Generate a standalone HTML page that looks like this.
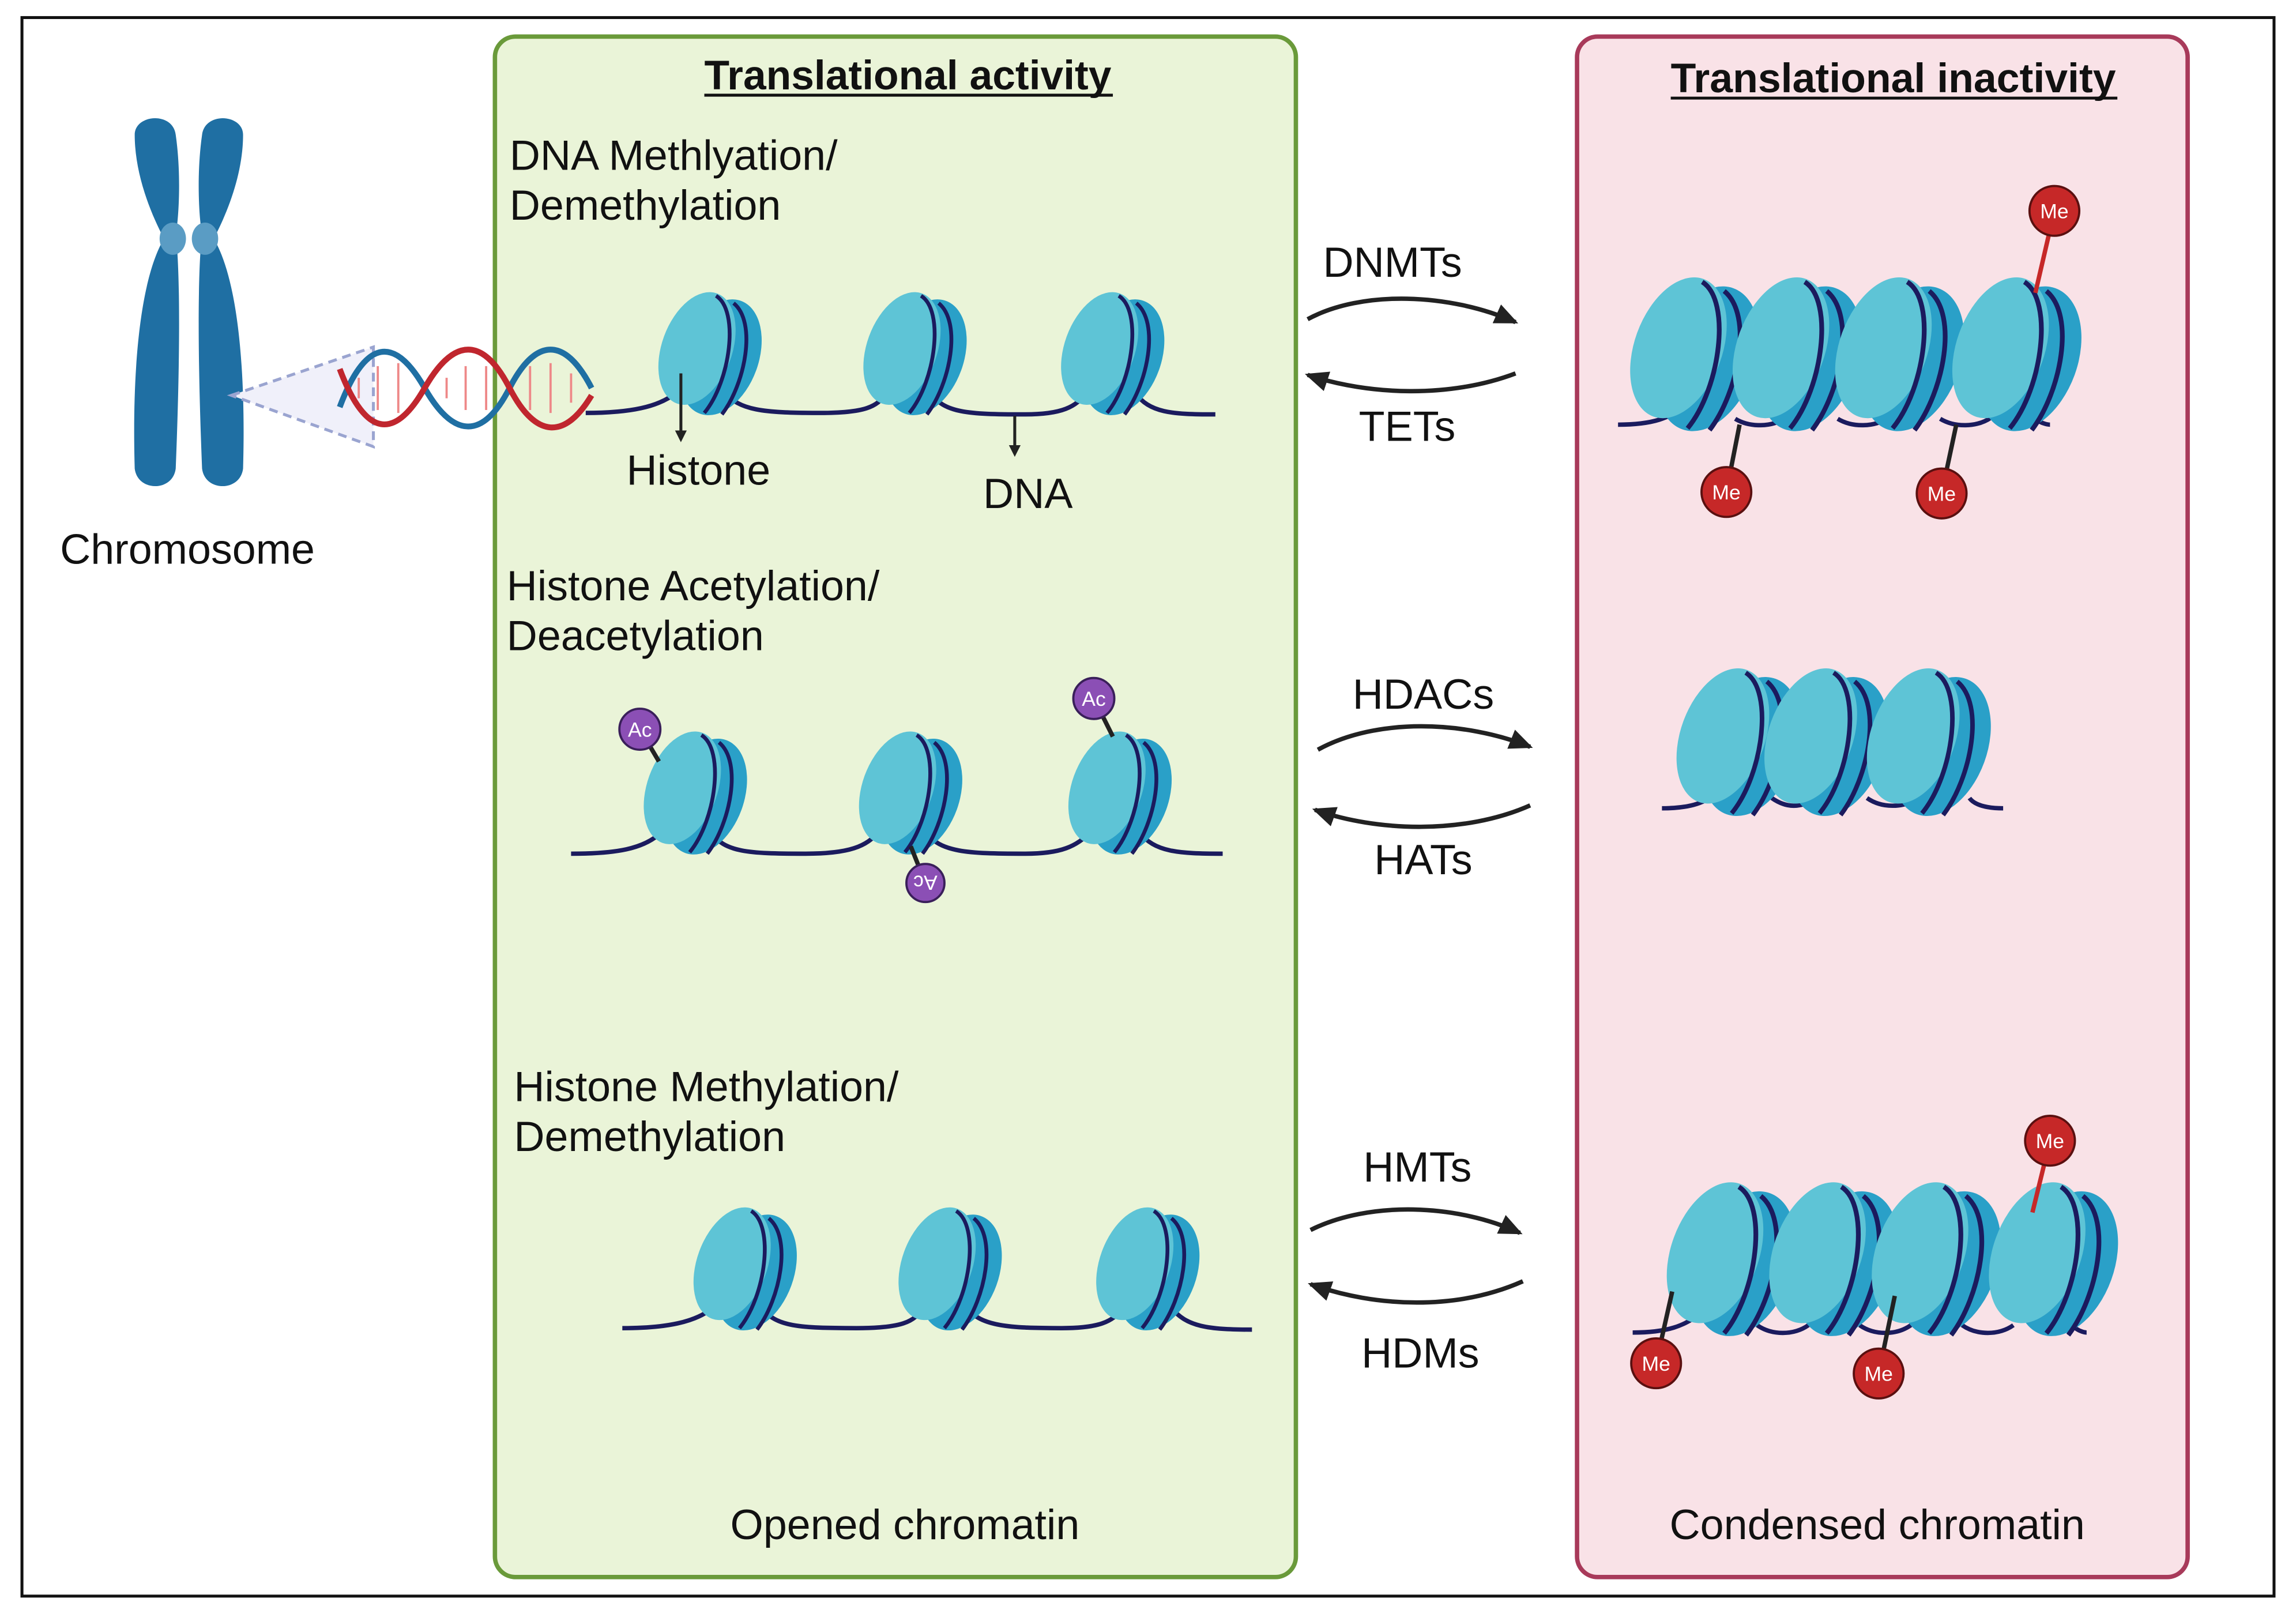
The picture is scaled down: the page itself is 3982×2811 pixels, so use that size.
<!DOCTYPE html>
<html><head><meta charset="utf-8"><style>
html,body{margin:0;padding:0;background:#fff}
svg{display:block}
text{font-family:"Liberation Sans",sans-serif;fill:#111}
</style></head><body>
<svg width="3982" height="2811" viewBox="0 0 1568 1107" preserveAspectRatio="none" xmlns="http://www.w3.org/2000/svg">
<defs>
<g id="nuc">
  <ellipse cx="9" cy="4" rx="26" ry="41" transform="rotate(20 9 4)" fill="#2aa0c8"/>
  <ellipse cx="-7" cy="-2" rx="24" ry="40" transform="rotate(20 -7 -2)" fill="#5ec4d6"/>
  <path d="M6,-38 C22,-28 16,20 -2,42" stroke="#1b1b5e" stroke-width="2.6" fill="none"/>
  <path d="M18,-33 C34,-20 26,22 10,43" stroke="#1b1b5e" stroke-width="2.6" fill="none"/>
</g>
<marker id="ah" markerWidth="8" markerHeight="8" refX="6" refY="4" orient="auto" markerUnits="userSpaceOnUse" viewBox="0 0 8 8">
<path d="M0,0 L8,4 L0,8 z" fill="#222"/></marker>
<marker id="ah2" markerWidth="16" markerHeight="14" refX="14" refY="7" orient="auto" markerUnits="userSpaceOnUse" viewBox="0 0 16 14">
<path d="M0,0 L16,7 L0,14 z" fill="#222"/></marker>
</defs>
<rect x="0" y="0" width="1568" height="1107" fill="#fff"/>
<rect x="15" y="12" width="1538" height="1078" fill="#fff" stroke="#111" stroke-width="2"/>
<rect x="338" y="25" width="547" height="1052" rx="14" fill="#eaf4d8" stroke="#6a9a3a" stroke-width="3"/>
<rect x="1077" y="25" width="417" height="1052" rx="14" fill="#f9e2e7" stroke="#a83a5a" stroke-width="3"/>

<text x="620" y="61" font-size="28" font-weight="bold" text-anchor="middle" textLength="278" lengthAdjust="spacingAndGlyphs">Translational activity</text>
<line x1="481" y1="65" x2="760" y2="65" stroke="#111" stroke-width="2"/>
<text x="1293" y="63" font-size="28" font-weight="bold" text-anchor="middle" textLength="304" lengthAdjust="spacingAndGlyphs">Translational inactivity</text>
<line x1="1141" y1="67" x2="1446" y2="67" stroke="#111" stroke-width="2"/>

<g font-size="29">
<text x="348" y="116">DNA Methlyation/</text>
<text x="348" y="150">Demethylation</text>
<text x="346" y="410">Histone Acetylation/</text>
<text x="346" y="444">Deacetylation</text>
<text x="351" y="752">Histone Methylation/</text>
<text x="351" y="786">Demethylation</text>
<text x="477" y="331" text-anchor="middle">Histone</text>
<text x="702" y="347" text-anchor="middle">DNA</text>
<text x="128" y="385" text-anchor="middle">Chromosome</text>
<text x="618" y="1051" text-anchor="middle">Opened chromatin</text>
<text x="1282" y="1051" text-anchor="middle">Condensed chromatin</text>
<text x="951" y="189" text-anchor="middle">DNMTs</text>
<text x="961" y="301" text-anchor="middle">TETs</text>
<text x="972" y="484" text-anchor="middle">HDACs</text>
<text x="972" y="597" text-anchor="middle">HATs</text>
<text x="968" y="807" text-anchor="middle">HMTs</text>
<text x="970" y="934" text-anchor="middle">HDMs</text>
</g>

<!-- chromosome -->
<g fill="#1f6fa3">
<path d="M92,92 C92,78 118,76 120,92 C124,120 122,150 120,160 C122,175 124,220 120,320 C118,336 94,336 92,320 C90,250 96,190 112,163 C100,140 92,115 92,92 z"/>
<path d="M138,92 C140,76 166,78 166,92 C166,115 158,140 146,163 C162,190 168,250 166,320 C164,336 140,336 138,320 C134,220 136,175 138,160 C136,150 134,120 138,92 z"/>
</g>
<ellipse cx="118" cy="163" rx="9" ry="11" fill="#5a9cc4"/>
<ellipse cx="140" cy="163" rx="9" ry="11" fill="#5a9cc4"/>
<path d="M158,270 L255,237 L255,305 z" fill="#f0f0fa" stroke="#9aa4d0" stroke-width="2" stroke-dasharray="6,4"/>
<g fill="none" stroke-width="4">
<path d="M232,278 C250,230 270,230 290,265 C310,300 330,300 348,265 C366,230 386,230 404,265" stroke="#1f6fa3"/>
<path d="M232,252 C250,300 270,300 290,265 C310,230 330,230 348,265 C366,300 386,300 404,270" stroke="#c0262e"/>
</g>
<g stroke="#e88" stroke-width="1.5">
<line x1="245" y1="258" x2="245" y2="272"/><line x1="258" y1="250" x2="258" y2="280"/><line x1="272" y1="248" x2="272" y2="282"/><line x1="305" y1="258" x2="305" y2="272"/><line x1="318" y1="250" x2="318" y2="280"/><line x1="332" y1="250" x2="332" y2="280"/><line x1="362" y1="250" x2="362" y2="280"/><line x1="376" y1="248" x2="376" y2="282"/><line x1="390" y1="255" x2="390" y2="275"/>
</g>

<path d="M400,282 C430,282 450,278 462,268 M495,268 C505,280 520,282 560,282 C590,282 600,278 605,268 M635,268 C645,282 660,283 700,283 C725,283 735,278 742,268 M775,268 C785,282 800,283 830,283" stroke="#1b1b5e" stroke-width="3" fill="none"/>
<use href="#nuc" x="483" y="240"/><use href="#nuc" x="623" y="240"/><use href="#nuc" x="758" y="240"/>
<line x1="465" y1="255" x2="465" y2="300" stroke="#222" stroke-width="2" marker-end="url(#ah)"/>
<line x1="693" y1="284" x2="693" y2="310" stroke="#222" stroke-width="2" marker-end="url(#ah)"/>

<path d="M390,583 C420,583 440,580 452,568 M485,568 C495,582 510,583 550,583 C580,583 592,578 600,568 M632,568 C642,582 660,583 700,583 C725,583 735,578 745,568 M778,568 C788,582 805,583 835,583" stroke="#1b1b5e" stroke-width="3" fill="none"/>
<use href="#nuc" x="473" y="540"/><use href="#nuc" x="620" y="540"/><use href="#nuc" x="763" y="540"/>
<g stroke="#222" stroke-width="3"><line x1="437" y1="498" x2="450" y2="520"/><line x1="747" y1="477" x2="760" y2="503"/><line x1="632" y1="603" x2="622" y2="578"/></g>
<g fill="#8b4fb5" stroke="#3a1f5a" stroke-width="1.5"><circle cx="437" cy="498" r="14"/><circle cx="747" cy="477" r="14"/><circle cx="632" cy="603" r="13"/></g>
<g font-size="14" text-anchor="middle"><text x="437" y="503" style="fill:#fff">Ac</text><text x="747" y="482" style="fill:#fff">Ac</text><text x="632" y="608" style="fill:#fff" transform="rotate(180 632 603)">Ac</text></g>

<path d="M425,907 C455,907 475,903 487,893 M520,893 C530,906 545,907 585,907 C615,907 625,903 630,893 M660,893 C670,906 690,907 725,907 C750,907 760,903 767,893 M800,893 C810,906 825,908 855,908" stroke="#1b1b5e" stroke-width="3" fill="none"/>
<use href="#nuc" x="507" y="865"/><use href="#nuc" x="647" y="865"/><use href="#nuc" x="782" y="865"/>

<g fill="none" stroke="#222" stroke-width="3">
<path d="M893,218 C930,198 990,200 1035,220" marker-end="url(#ah2)"/>
<path d="M1035,255 C990,272 935,270 893,256" marker-end="url(#ah2)"/>
<path d="M900,512 C940,490 1000,492 1045,510" marker-end="url(#ah2)"/>
<path d="M1045,550 C1000,570 940,568 898,553" marker-end="url(#ah2)"/>
<path d="M895,840 C935,820 995,822 1038,842" marker-end="url(#ah2)"/>
<path d="M1040,875 C995,895 940,893 895,877" marker-end="url(#ah2)"/>
</g>

<path d="M1105,290 C1130,290 1140,285 1150,278 M1185,286 C1195,292 1210,292 1220,285 M1255,286 C1265,292 1280,292 1290,285 M1325,286 C1335,292 1350,292 1360,285 M1390,286 C1395,290 1400,290 1400,290" stroke="#1b1b5e" stroke-width="3" fill="none"/>
<g transform="translate(1155,240) scale(1.25)"><use href="#nuc"/></g>
<g transform="translate(1225,240) scale(1.25)"><use href="#nuc"/></g>
<g transform="translate(1295,240) scale(1.25)"><use href="#nuc"/></g>
<g transform="translate(1375,240) scale(1.25)"><use href="#nuc"/></g>
<line x1="1403" y1="144" x2="1390" y2="200" stroke="#c62828" stroke-width="3"/>
<line x1="1179" y1="336" x2="1188" y2="290" stroke="#222" stroke-width="3"/>
<line x1="1326" y1="337" x2="1336" y2="290" stroke="#222" stroke-width="3"/>
<g fill="#c62828" stroke="#5a1010" stroke-width="1.5"><circle cx="1403" cy="144" r="17"/><circle cx="1179" cy="336" r="17"/><circle cx="1326" cy="337" r="17"/></g>
<g font-size="14" text-anchor="middle"><text x="1403" y="149" style="fill:#fff">Me</text><text x="1179" y="341" style="fill:#fff">Me</text><text x="1326" y="342" style="fill:#fff">Me</text></g>

<path d="M1135,552 C1155,552 1165,548 1175,540 M1210,545 C1220,552 1230,552 1240,545 M1275,545 C1285,552 1300,552 1310,545 M1345,545 C1350,552 1365,552 1368,552" stroke="#1b1b5e" stroke-width="3" fill="none"/>
<g transform="translate(1185,505) scale(1.2)"><use href="#nuc"/></g>
<g transform="translate(1245,505) scale(1.2)"><use href="#nuc"/></g>
<g transform="translate(1315,505) scale(1.2)"><use href="#nuc"/></g>

<path d="M1115,910 C1140,910 1150,905 1160,898 M1200,905 C1210,912 1225,912 1235,905 M1270,905 C1280,912 1295,912 1305,905 M1340,905 C1350,912 1365,912 1375,905 M1415,905 C1420,910 1425,910 1425,910" stroke="#1b1b5e" stroke-width="3" fill="none"/>
<g transform="translate(1180,858) scale(1.25)"><use href="#nuc"/></g>
<g transform="translate(1250,858) scale(1.25)"><use href="#nuc"/></g>
<g transform="translate(1320,858) scale(1.25)"><use href="#nuc"/></g>
<g transform="translate(1400,858) scale(1.25)"><use href="#nuc"/></g>
<line x1="1400" y1="779" x2="1388" y2="828" stroke="#c62828" stroke-width="3"/>
<line x1="1131" y1="931" x2="1142" y2="882" stroke="#222" stroke-width="3"/>
<line x1="1283" y1="938" x2="1294" y2="885" stroke="#222" stroke-width="3"/>
<g fill="#c62828" stroke="#5a1010" stroke-width="1.5"><circle cx="1400" cy="779" r="17"/><circle cx="1131" cy="931" r="17"/><circle cx="1283" cy="938" r="17"/></g>
<g font-size="14" text-anchor="middle"><text x="1400" y="784" style="fill:#fff">Me</text><text x="1131" y="936" style="fill:#fff">Me</text><text x="1283" y="943" style="fill:#fff">Me</text></g>
</svg>
</body></html>
